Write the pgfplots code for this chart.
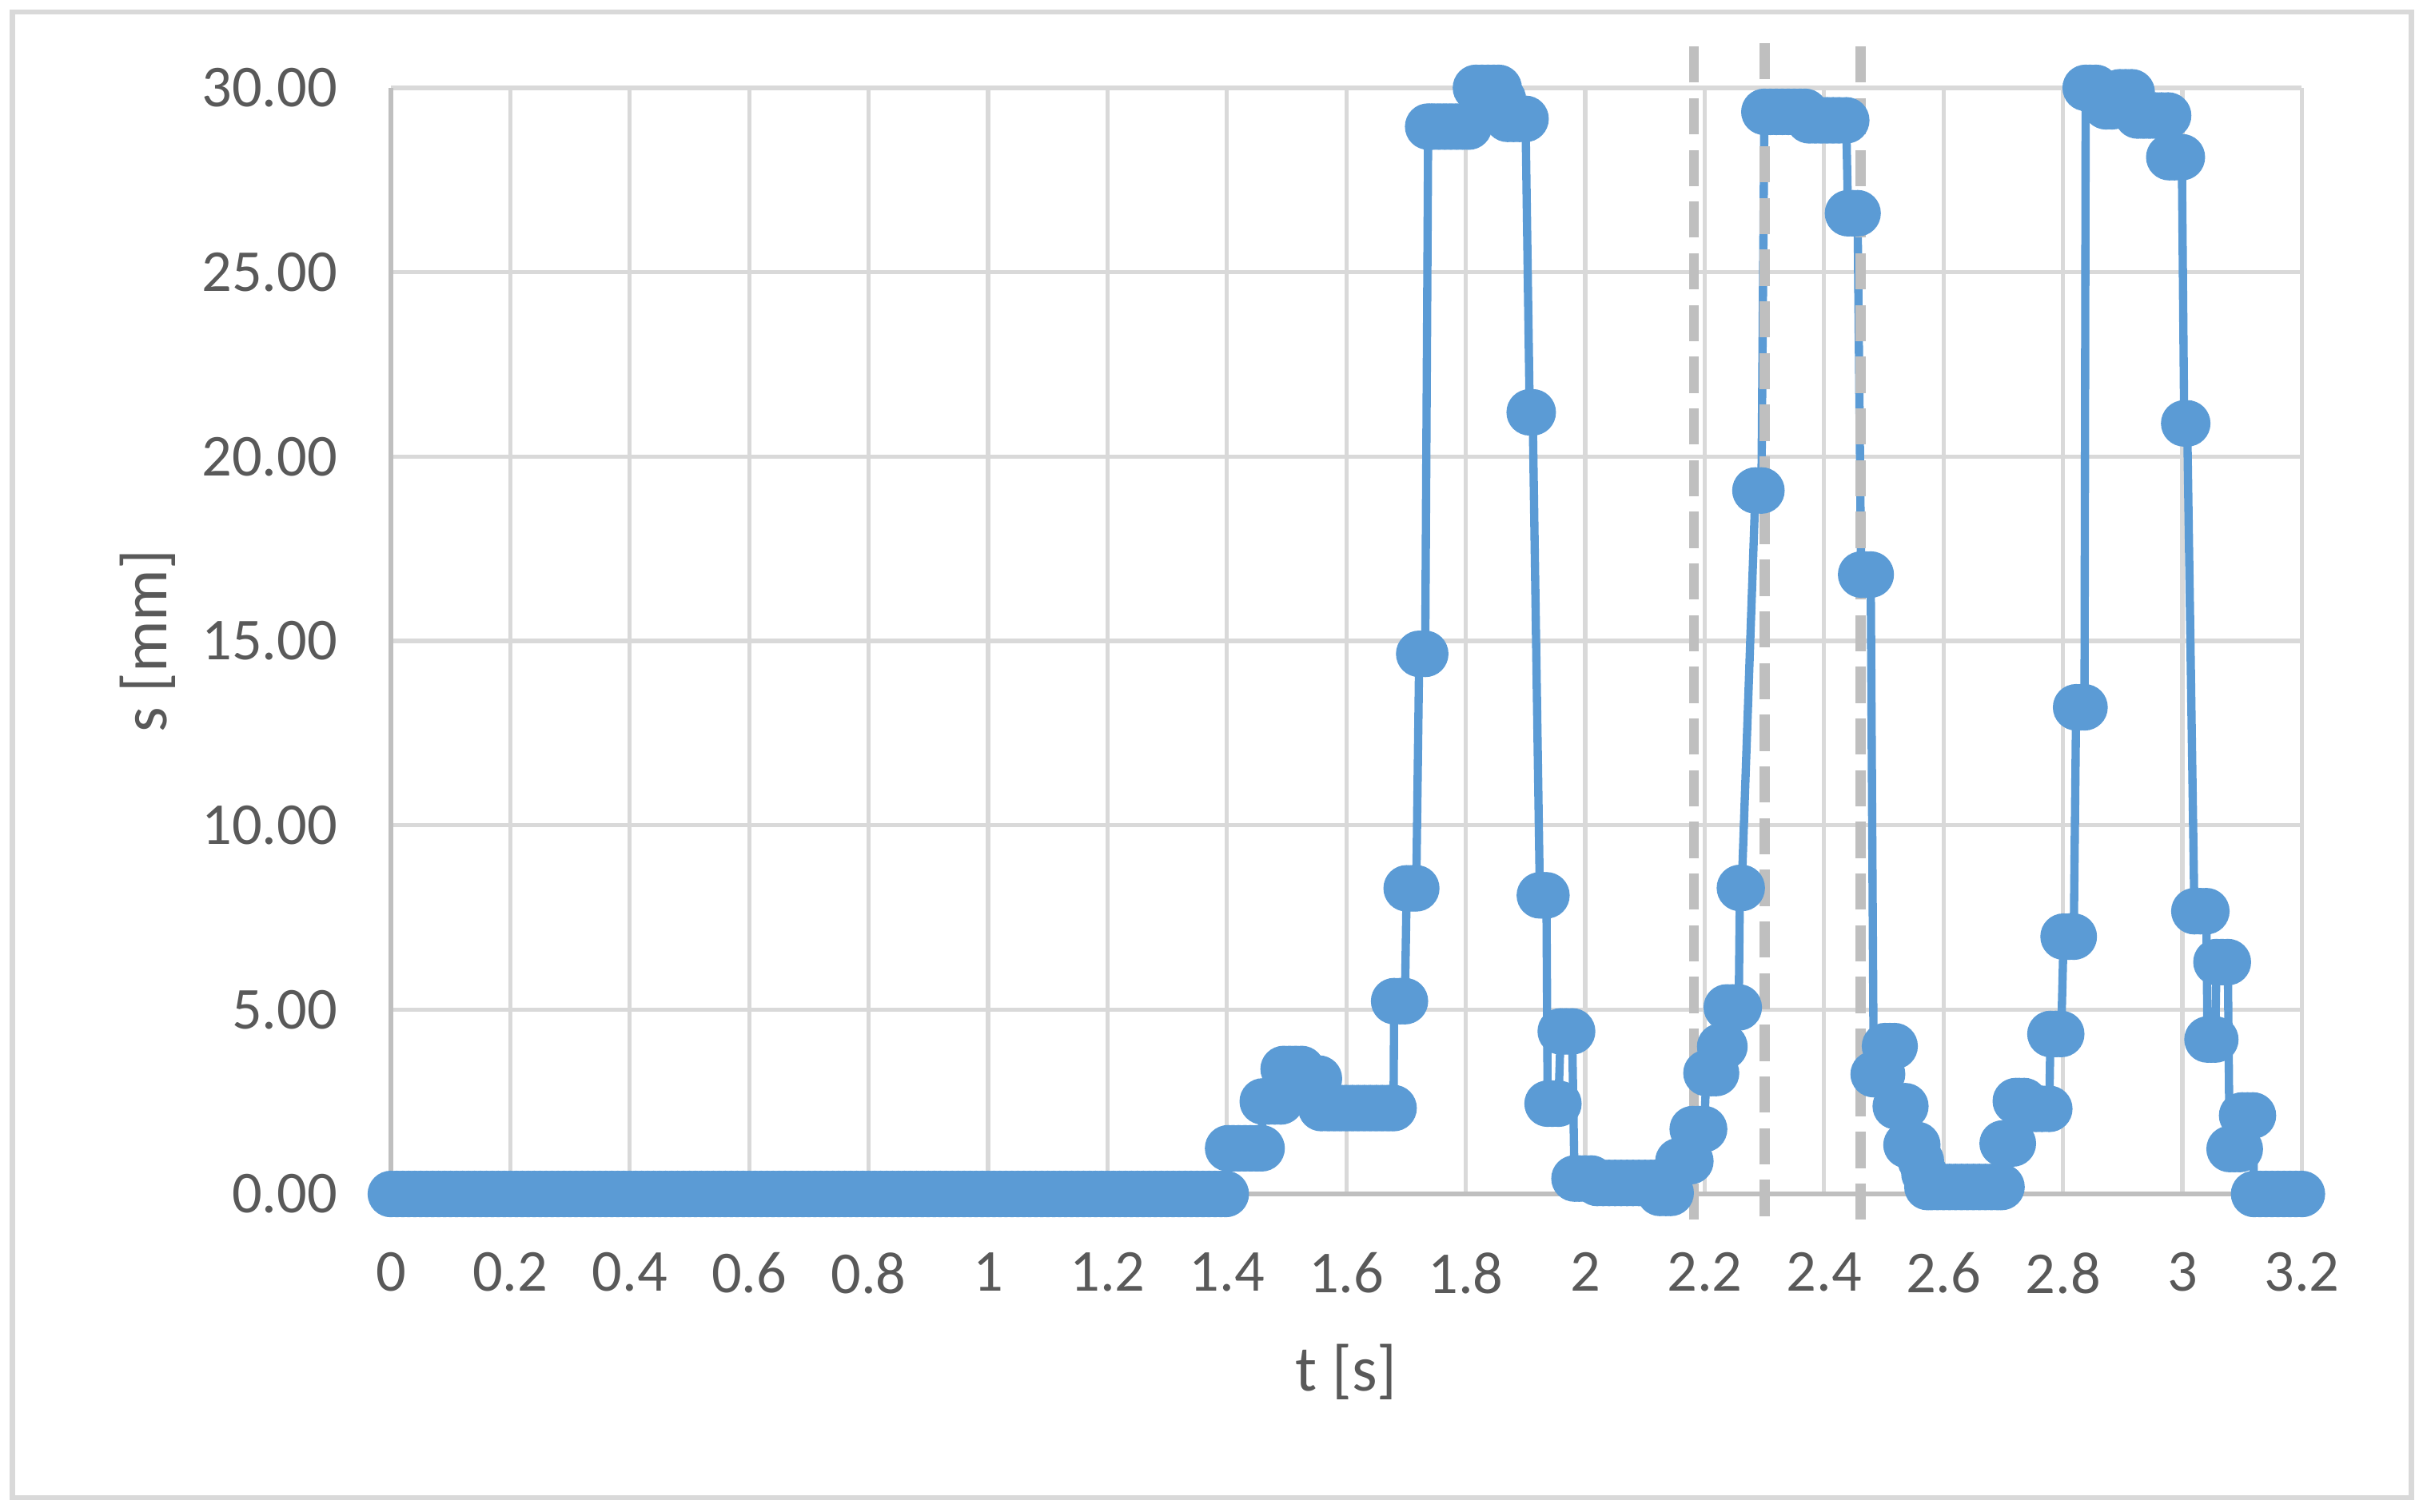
\documentclass[border=0pt]{standalone}
\usepackage{pgfplots}
\pgfplotsset{compat=1.18}
\usepackage{fontspec}
\setmainfont{Carlito}
\definecolor{sblue}{HTML}{5B9BD5}
\definecolor{gridgray}{HTML}{D9D9D9}
\definecolor{axgray}{HTML}{BFBFBF}
\definecolor{txtgray}{HTML}{595959}
\definecolor{dashgray}{HTML}{BFBFBF}

\begin{document}
\begin{tikzpicture}
% page = chart area, frame in light grey
\path[use as bounding box] (-75.6pt,-61.5pt) rectangle (393.8pt,231.0pt);
\draw[gridgray, line width=1pt] (-73.2pt,-58.7pt) rectangle (390.8pt,228.7pt);

\begin{axis}[
  scale only axis,
  width=369.6pt, height=214.0pt,
  xmin=0, xmax=3.2, ymin=0, ymax=30,
  clip=false,
  axis x line*=bottom, axis y line*=left,
  axis line style={axgray, line width=0.8pt},
  grid=major,
  major grid style={gridgray, line width=0.8pt},
  major tick length=0pt,
  xtick={0,0.2,0.4,0.6,0.8,1,1.2,1.4,1.6,1.8,2,2.2,2.4,2.6,2.8,3,3.2},
  xticklabels={0,0.2,0.4,0.6,0.8,1,1.2,1.4,1.6,1.8,2,2.2,2.4,2.6,2.8,3,3.2},
  ytick={0,5,10,15,20,25,30},
  yticklabels={0.00,5.00,10.00,15.00,20.00,25.00,30.00},
  /pgf/number format/assume math mode=true,
  tick label style={font=\fontsize{11.5}{13}\selectfont, text=txtgray},
  xticklabel style={yshift=-7.8pt},
  yticklabel style={xshift=-6.8pt},
  label style={font=\fontsize{12.5}{15}\selectfont, text=txtgray},
  xlabel={t [s]},
  ylabel={s [mm]},
  xlabel style={at={(axis description cs:0.5,-0.161)}, anchor=center},
  ylabel style={at={(axis description cs:-0.1274,0.5)}, anchor=center},
]

% measured displacement
\addplot[sblue, line width=1.6pt, mark=*, mark size=3.7pt,
  mark options={solid, fill=sblue, draw=none}]
  coordinates {
  (0.00,0) (0.01,0) (0.02,0) (0.03,0) (0.04,0) (0.05,0) (0.06,0) (0.07,0) (0.08,0) (0.09,0)
  (0.10,0) (0.11,0) (0.12,0) (0.13,0) (0.14,0) (0.15,0) (0.16,0) (0.17,0) (0.18,0) (0.19,0)
  (0.20,0) (0.21,0) (0.22,0) (0.23,0) (0.24,0) (0.25,0) (0.26,0) (0.27,0) (0.28,0) (0.29,0)
  (0.30,0) (0.31,0) (0.32,0) (0.33,0) (0.34,0) (0.35,0) (0.36,0) (0.37,0) (0.38,0) (0.39,0)
  (0.40,0) (0.41,0) (0.42,0) (0.43,0) (0.44,0) (0.45,0) (0.46,0) (0.47,0) (0.48,0) (0.49,0)
  (0.50,0) (0.51,0) (0.52,0) (0.53,0) (0.54,0) (0.55,0) (0.56,0) (0.57,0) (0.58,0) (0.59,0)
  (0.60,0) (0.61,0) (0.62,0) (0.63,0) (0.64,0) (0.65,0) (0.66,0) (0.67,0) (0.68,0) (0.69,0)
  (0.70,0) (0.71,0) (0.72,0) (0.73,0) (0.74,0) (0.75,0) (0.76,0) (0.77,0) (0.78,0) (0.79,0)
  (0.80,0) (0.81,0) (0.82,0) (0.83,0) (0.84,0) (0.85,0) (0.86,0) (0.87,0) (0.88,0) (0.89,0)
  (0.90,0) (0.91,0) (0.92,0) (0.93,0) (0.94,0) (0.95,0) (0.96,0) (0.97,0) (0.98,0) (0.99,0)
  (1.00,0) (1.01,0) (1.02,0) (1.03,0) (1.04,0) (1.05,0) (1.06,0) (1.07,0) (1.08,0) (1.09,0)
  (1.10,0) (1.11,0) (1.12,0) (1.13,0) (1.14,0) (1.15,0) (1.16,0) (1.17,0) (1.18,0) (1.19,0)
  (1.20,0) (1.21,0) (1.22,0) (1.23,0) (1.24,0) (1.25,0) (1.26,0) (1.27,0) (1.28,0) (1.29,0)
  (1.30,0) (1.31,0) (1.32,0) (1.33,0) (1.34,0) (1.35,0) (1.36,0) (1.37,0) (1.38,0) (1.39,0)
  (1.398,0)
  (1.402,1.24) (1.41,1.24) (1.42,1.24) (1.43,1.24) (1.44,1.24) (1.45,1.24) (1.458,1.24)
  (1.460,2.51) (1.47,2.51) (1.48,2.51) (1.49,2.51)
  (1.495,3.39) (1.505,3.39) (1.515,3.39) (1.525,3.39)
  (1.53,3.13) (1.54,3.13) (1.554,3.13)
  (1.558,2.33) (1.57,2.33) (1.58,2.33) (1.59,2.33) (1.60,2.33) (1.61,2.33) (1.62,2.33)
  (1.63,2.33) (1.64,2.33) (1.65,2.33) (1.66,2.33) (1.67,2.33) (1.679,2.33)
  (1.680,5.23) (1.69,5.23) (1.698,5.23)
  (1.701,8.29) (1.71,8.29) (1.717,8.29)
  (1.722,14.65) (1.732,14.65)
  (1.737,28.95) (1.745,28.95) (1.755,28.95) (1.765,28.95) (1.775,28.95) (1.785,28.95)
  (1.795,28.95) (1.805,28.95)
  (1.817,30.0) (1.827,30.0) (1.837,30.0) (1.847,30.0) (1.855,30.0)
  (1.862,29.7) (1.87,29.16) (1.88,29.16) (1.89,29.16) (1.90,29.16)
  (1.907,21.2) (1.912,21.2)
  (1.924,8.1) (1.930,8.1) (1.935,8.1)
  (1.937,2.45) (1.945,2.45) (1.955,2.45)
  (1.959,4.41) (1.968,4.41) (1.978,4.41)
  (1.982,0.42) (1.99,0.42) (2.00,0.42) (2.01,0.42)
  (2.02,0.30) (2.03,0.30) (2.04,0.30) (2.05,0.30) (2.06,0.30) (2.07,0.30) (2.08,0.30)
  (2.09,0.30) (2.10,0.30) (2.11,0.30) (2.117,0.30)
  (2.125,0.03) (2.135,0.03) (2.143,0.03)
  (2.156,0.89) (2.166,0.89) (2.176,0.89)
  (2.180,1.76) (2.19,1.76) (2.199,1.76)
  (2.203,3.28) (2.211,3.28) (2.219,3.28)
  (2.226,4.0) (2.233,4.0)
  (2.237,5.06) (2.247,5.06) (2.257,5.06)
  (2.259,8.3) (2.262,8.3)
  (2.285,19.08) (2.295,19.08)
  (2.300,29.35) (2.31,29.35) (2.32,29.35) (2.33,29.35) (2.34,29.35) (2.35,29.35)
  (2.36,29.35) (2.368,29.35)
  (2.375,29.12) (2.385,29.12) (2.395,29.12) (2.405,29.12) (2.415,29.12) (2.425,29.12)
  (2.437,29.12)
  (2.440,26.6) (2.448,26.6) (2.456,26.6)
  (2.462,16.8) (2.47,16.8) (2.478,16.8)
  (2.483,3.25) (2.490,3.25) (2.497,3.25)
  (2.502,4.01) (2.510,4.01) (2.518,4.01)
  (2.520,2.38) (2.528,2.38) (2.536,2.38)
  (2.538,1.33) (2.547,1.33) (2.556,1.33)
  (2.562,0.9) (2.568,0.55)
  (2.573,0.19) (2.58,0.19) (2.59,0.19) (2.60,0.19) (2.61,0.19) (2.62,0.19) (2.63,0.19)
  (2.64,0.19) (2.65,0.19) (2.66,0.19) (2.67,0.19) (2.68,0.19) (2.69,0.19) (2.697,0.19)
  (2.699,1.37) (2.708,1.37) (2.716,1.37)
  (2.721,2.52) (2.727,2.52) (2.735,2.52)
  (2.745,2.31) (2.755,2.31) (2.765,2.31) (2.777,2.31)
  (2.779,4.34) (2.788,4.34) (2.797,4.34)
  (2.801,6.98) (2.81,6.98) (2.818,6.98)
  (2.822,13.2) (2.829,13.2) (2.836,13.2)
  (2.838,30.0) (2.845,30.0) (2.855,30.0)
  (2.862,29.75) (2.872,29.5) (2.882,29.5)
  (2.895,29.88) (2.905,29.88) (2.915,29.88)
  (2.925,29.25) (2.935,29.25) (2.945,29.25) (2.955,29.25) (2.965,29.25) (2.976,29.25)
  (2.978,28.12) (2.987,28.12) (2.999,28.12)
  (3.003,20.9) (3.008,20.9)
  (3.020,7.67) (3.030,7.67) (3.040,7.67)
  (3.042,4.19) (3.048,4.19) (3.055,4.19)
  (3.057,6.29) (3.066,6.29) (3.076,6.29)
  (3.079,1.22) (3.087,1.22) (3.096,1.22)
  (3.100,2.13) (3.109,2.13) (3.118,2.13)
  (3.120,0) (3.13,0) (3.14,0) (3.15,0) (3.16,0) (3.17,0) (3.18,0) (3.19,0) (3.20,0)
  };

% short blue dashes at 3.25 mm
\addplot[sblue, line width=2pt] coordinates {(2.166,3.25) (2.200,3.25)};
\addplot[sblue, line width=2pt] coordinates {(2.447,3.25) (2.475,3.25)};

% event markers
\addplot[dashgray, line width=2pt, dash pattern=on 7pt off 3pt] coordinates {(2.182,-0.7) (2.182,31.4)};
\addplot[dashgray, line width=2pt, dash pattern=on 7pt off 3pt] coordinates {(2.300,-0.6) (2.300,31.5)};
\addplot[dashgray, line width=2pt, dash pattern=on 7pt off 3pt] coordinates {(2.461,-0.7) (2.461,31.35)};

\end{axis}
\end{tikzpicture}
\end{document}
